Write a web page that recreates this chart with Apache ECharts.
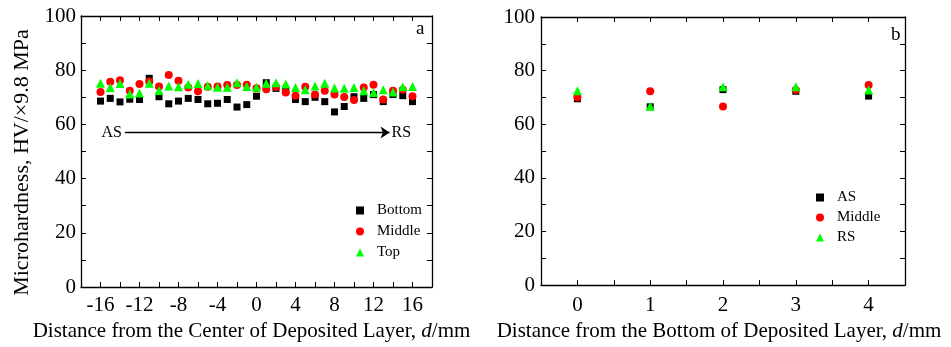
<!DOCTYPE html>
<html>
<head>
<meta charset="utf-8">
<script src="https://cdn.jsdelivr.net/npm/echarts@6/dist/echarts.min.js"></script>
<style>
  html, body { margin: 0; padding: 0; background: #fff; }
  #chart { width: 951px; height: 347px; }
</style>
</head>
<body>
<div id="chart"></div>
<script>
// panel a: distance from center of deposited layer (mm)
const centerDistance = [-16, -15, -14, -13, -12, -11, -10, -9, -8, -7, -6, -5, -4, -3, -2, -1, 0,
  1, 2, 3, 4, 5, 6, 7, 8, 9, 10, 11, 12, 13, 14, 15, 16];
const bottomHv = [68.6, 69.6, 68.3, 69.3, 69.2, 77.0, 70.2, 67.6, 68.6, 69.6, 69.2, 67.6, 67.8, 69.2, 66.4, 67.3, 70.4,
  75.4, 73.3, 72.5, 69.2, 68.4, 70.0, 68.4, 64.6, 66.6, 70.2, 69.6, 71.0, 68.4, 71.0, 70.6, 68.4];
const middleHv = [72.0, 75.7, 76.3, 72.4, 74.9, 75.8, 74.0, 78.2, 76.1, 73.6, 72.2, 73.9, 74.0, 74.5, 74.5, 74.6, 73.3,
  73.0, 73.8, 71.8, 70.6, 73.9, 71.0, 72.4, 71.0, 70.1, 69.0, 73.6, 74.6, 69.2, 72.4, 72.8, 70.4];
const topHv = [75.2, 73.6, 75.1, 71.2, 71.6, 75.2, 72.5, 74.2, 73.9, 74.8, 75.1, 74.3, 73.7, 73.7, 75.4, 74.0, 73.7,
  75.2, 75.4, 74.9, 73.6, 72.8, 74.2, 75.2, 73.4, 73.3, 73.6, 72.4, 71.8, 72.8, 72.0, 73.9, 74.0];

// panel b: distance from bottom of deposited layer (mm)
const bottomDistance = [0, 1, 2, 3, 4];
const asHv = [69.5, 66.5, 72.9, 72.3, 70.5];
const midHv = [70.1, 72.3, 66.6, 72.8, 74.6];
const rsHv = [72.5, 66.7, 74.0, 74.0, 72.8];

// AS -> RS arrow in panel a
const arrowFrom = [-13.5, 57];
const arrowTo = [13.65, 57];

const FONT = "Liberation Serif";
const pair = (xs, ys) => xs.map((x, i) => [x, ys[i]]);

const chart = echarts.init(document.getElementById("chart"), null, { renderer: "canvas" });

const frameLine = { onZero: false, lineStyle: { color: "#000", width: 1.3 } };
const tickIn = { inside: true, length: 5, lineStyle: { color: "#000", width: 1 } };
const hvLabel = (v) => (v % 20 === 0 ? String(v) : "");

function bottomAxis(grid, min, max, step, labelFn, name, gap, margin, shift) {
  return {
    type: "value", gridIndex: grid, min, max, interval: step,
    axisLine: frameLine, axisTick: tickIn, splitLine: { show: false },
    axisLabel: { formatter: labelFn, color: "#000", fontFamily: FONT, fontSize: 21, margin, showMinLabel: true, showMaxLabel: true },
    name, nameLocation: "middle", nameGap: gap,
    nameTextStyle: {
      color: "#000", fontFamily: FONT, fontSize: 21, padding: [0, shift, 0, 0],
      rich: { i: { fontStyle: "italic", fontFamily: FONT, fontSize: 21, color: "#000" } }
    }
  };
}
function mirrorAxis(grid, min, max, step, position) {
  return {
    type: "value", gridIndex: grid, min, max, interval: step, position,
    axisLine: frameLine, axisTick: tickIn, axisLabel: { show: false }, splitLine: { show: false }
  };
}

const scatter = (name, data, xi, yi, symbol, size, color) => ({
  name, type: "scatter", xAxisIndex: xi, yAxisIndex: yi, data,
  symbol, symbolSize: size, itemStyle: { color, opacity: 1 }, silent: true
});

const legendText = { color: "#000", fontFamily: FONT, fontSize: 15, padding: [0, 0, 0, 8] };

chart.setOption({
  animation: false,
  grid: [
    { left: 81, right: 519, top: 16, bottom: 60 },
    { left: 541, right: 46, top: 17, bottom: 54 }
  ],
  xAxis: [
    bottomAxis(0, -18, 18, 2, (v) => (v % 4 === 0 ? String(v) : ""),
      "Distance from the Center of Deposited Layer, {i|d}/mm", 29, 8, 10),
    mirrorAxis(0, -18, 18, 2, "top"),
    bottomAxis(1, -0.5, 4.5, 0.5, (v) => (Number.isInteger(v) ? String(v) : ""),
      "Distance from the Bottom of Deposited Layer, {i|d}/mm", 30, 10, 8),
    mirrorAxis(1, -0.5, 4.5, 0.5, "top")
  ],
  yAxis: [
    {
      type: "value", gridIndex: 0, min: 0, max: 100, interval: 10,
      axisLine: frameLine, axisTick: tickIn, splitLine: { show: false },
      axisLabel: { formatter: hvLabel, color: "#000", fontFamily: FONT, fontSize: 21, margin: 5 },
      name: "Microhardness, HV/\u00d79.8 MPa", nameLocation: "middle", nameGap: 48,
      nameTextStyle: { color: "#000", fontFamily: FONT, fontSize: 22, padding: [0, 22, 0, 0] }
    },
    mirrorAxis(0, 0, 100, 10, "right"),
    {
      type: "value", gridIndex: 1, min: 0, max: 100, interval: 10,
      axisLine: frameLine, axisTick: tickIn, splitLine: { show: false },
      axisLabel: { formatter: hvLabel, color: "#000", fontFamily: FONT, fontSize: 21, margin: 6 }
    },
    mirrorAxis(1, 0, 100, 10, "right")
  ],
  legend: [
    {
      data: [
        { name: "Bottom", icon: "rect" },
        { name: "Middle", icon: "circle" },
        { name: "Top", icon: "triangle" }
      ],
      orient: "vertical", left: 351, top: 198, itemWidth: 8, itemHeight: 8, itemGap: 6,
      selectedMode: false, textStyle: legendText
    },
    {
      data: [
        { name: "AS", icon: "rect" },
        { name: "Mid", icon: "circle" },
        { name: "RS", icon: "triangle" }
      ],
      formatter: (n) => (n === "Mid" ? "Middle" : n),
      orient: "vertical", left: 811, top: 185, itemWidth: 8, itemHeight: 8, itemGap: 5,
      selectedMode: false, textStyle: legendText
    }
  ],
  series: [
    scatter("Bottom", pair(centerDistance, bottomHv), 0, 0, "rect", 7, "#000000"),
    scatter("Middle", pair(centerDistance, middleHv), 0, 0, "circle", 8, "#ff0000"),
    scatter("Top", pair(centerDistance, topHv), 0, 0, "triangle", 9, "#00ff00"),
    {
      type: "scatter", xAxisIndex: 0, yAxisIndex: 0, data: [], silent: true,
      markLine: {
        silent: true, symbol: ["none", "arrow"], symbolSize: 9,
        lineStyle: { color: "#000", width: 1.3, type: "solid" },
        label: { show: false },
        data: [[{ coord: arrowFrom }, { coord: arrowTo }]]
      },
      markPoint: {
        silent: true, symbol: "circle", symbolSize: 0,
        label: { show: true, color: "#000", fontFamily: FONT, fontSize: 16 },
        data: [
          { coord: arrowFrom, label: { formatter: "AS", position: "left", distance: 3 } },
          { coord: arrowTo, label: { formatter: "RS", position: "right", distance: 2 } }
        ]
      }
    },
    scatter("AS", pair(bottomDistance, asHv), 2, 2, "rect", 7, "#000000"),
    scatter("Mid", pair(bottomDistance, midHv), 2, 2, "circle", 8, "#ff0000"),
    scatter("RS", pair(bottomDistance, rsHv), 2, 2, "triangle", 9, "#00ff00")
  ],
  graphic: [
    { type: "text", left: 416, top: 20, style: { text: "a", font: `19px "${FONT}"`, fill: "#000" } },
    { type: "text", left: 891, top: 26, style: { text: "b", font: `19px "${FONT}"`, fill: "#000" } }
  ]
});
</script>
</body>
</html>
